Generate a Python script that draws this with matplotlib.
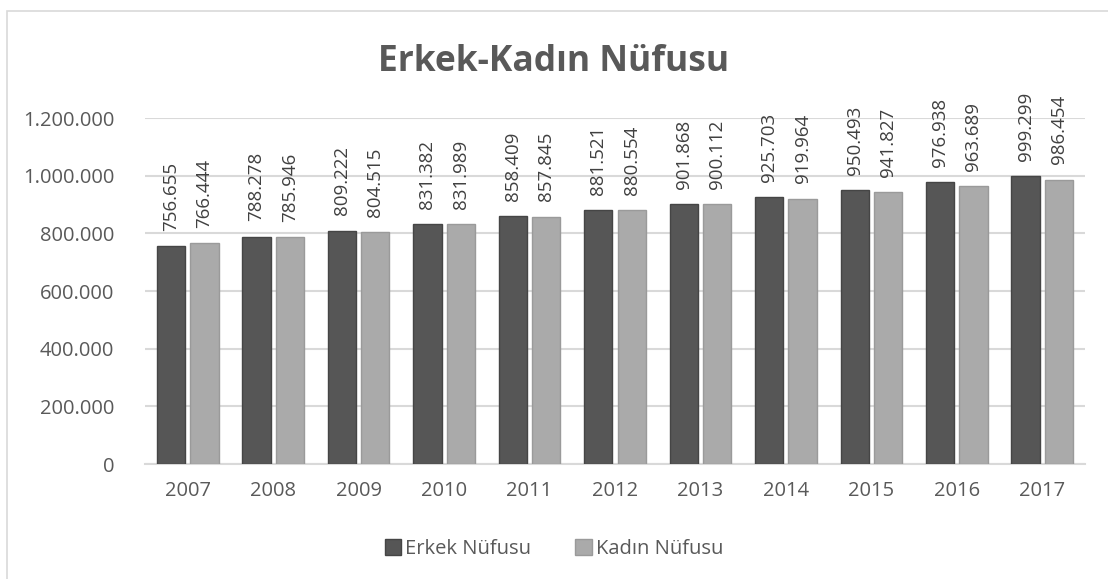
import matplotlib.pyplot as plt
import numpy as np
from matplotlib.patches import Rectangle, Patch

years = ['2007', '2008', '2009', '2010', '2011', '2012', '2013', '2014', '2015', '2016', '2017']
erkek = [756655, 788278, 809222, 831382, 858409, 881521, 901868, 925703, 950493, 976938, 999299]
kadin = [766444, 785946, 804515, 831989, 857845, 880554, 900112, 919964, 941827, 963689, 986454]
yticks = [0, 200000, 400000, 600000, 800000, 1000000, 1200000]

plt.rcParams['font.family'] = ['Open Sans', 'DejaVu Sans']
text_col = '#595959'


def tr(v):
    return f'{v:,}'.replace(',', '.')


fig = plt.figure(figsize=(11.08, 5.79), dpi=100)
ax = fig.add_axes([0.1309, 0.1986, 0.8483, 0.5976])

x = np.arange(len(years))
w = 0.33
b1 = ax.bar(x - 0.195, erkek, w, color='#565656', edgecolor='#454545', linewidth=1.0, zorder=3)
b2 = ax.bar(x + 0.195, kadin, w, color='#aaaaaa', edgecolor='#9a9a9a', linewidth=1.0, zorder=3)

for bars, vals in [(b1, erkek), (b2, kadin)]:
    for r, v in zip(bars, vals):
        ax.annotate(tr(v), (r.get_x() + r.get_width() / 2, r.get_height()), xytext=(0, 11),
                    textcoords='offset points', rotation=90, ha='center', va='bottom',
                    fontsize=13.5, color='#404040')

ax.set_xlim(-0.5, len(years) - 0.5)
ax.set_ylim(0, 1200000)
ax.set_yticks(yticks)
ax.set_yticklabels([tr(v) for v in yticks])
ax.set_xticks(x)
ax.set_xticklabels(years)
ax.tick_params(axis='both', length=0, labelsize=14.5, colors=text_col)
ax.tick_params(axis='x', pad=12)
ax.tick_params(axis='y', pad=22)
ax.grid(axis='y', color='#d9d9d9', linewidth=1.5, zorder=0)
for s in ['top', 'right', 'left']:
    ax.spines[s].set_visible(False)
ax.spines['bottom'].set_color('#d9d9d9')
ax.spines['bottom'].set_linewidth(1.5)

fig.text(0.5, 0.893, 'Erkek-Kadın Nüfusu', ha='center', va='center', fontsize=25.5,
         fontweight='bold', color=text_col)

handles = [Patch(facecolor='#565656', edgecolor='#454545', label='Erkek Nüfusu'),
           Patch(facecolor='#aaaaaa', edgecolor='#9a9a9a', label='Kadın Nüfusu')]
fig.legend(handles=handles, loc='center', bbox_to_anchor=(0.5, 0.052), ncol=2, frameon=False,
           fontsize=14.5, handlelength=0.8, handleheight=0.8, handletextpad=0.2, columnspacing=2.2,
           labelcolor=text_col)

fig.patches.append(Rectangle((7 / 1108, -0.1), 1.2, 1 - 11 / 579 + 0.1, transform=fig.transFigure,
                             fill=False, edgecolor='#d9d9d9', linewidth=1.2))

fig.savefig('out.png', dpi=100)
